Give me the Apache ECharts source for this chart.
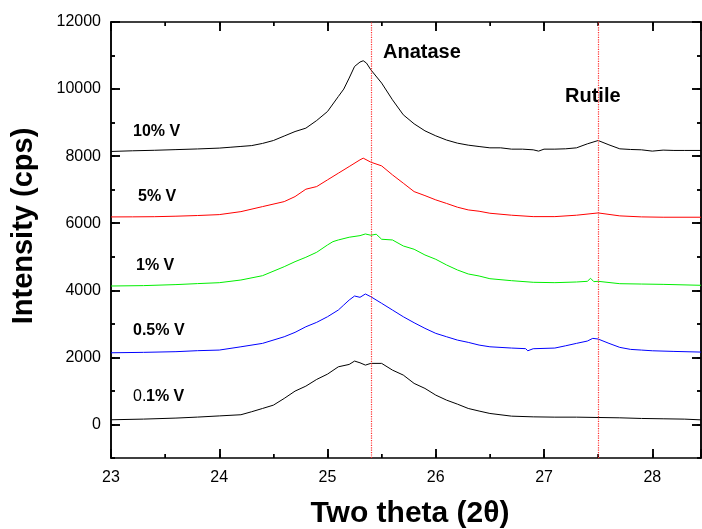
<!DOCTYPE html>
<html>
<head>
<meta charset="utf-8">
<script src="https://cdn.jsdelivr.net/npm/echarts@6/dist/echarts.min.js"></script>
<style>
  html, body { margin: 0; padding: 0; background: #fff; }
  #chart { width: 702px; height: 529px; }
</style>
</head>
<body>
<div id="chart"></div>
<script>
// XRD curves, [two theta, intensity]
const v10 = [[23.0,8140],[23.2,8160],[23.4,8175],[23.6,8195],[23.8,8215],[24.0,8240],[24.1,8265],[24.2,8290],[24.3,8315],[24.4,8380],[24.5,8466],[24.6,8600],[24.7,8734],[24.8,8835],[24.9,9063],[25.0,9331],[25.1,9779],[25.15,10000],[25.2,10328],[25.25,10675],[25.3,10806],[25.33,10845],[25.36,10775],[25.4,10576],[25.5,10179],[25.6,9680],[25.7,9233],[25.8,8964],[25.9,8755],[26.0,8606],[26.1,8480],[26.2,8388],[26.3,8328],[26.4,8287],[26.5,8248],[26.6,8248],[26.7,8209],[26.8,8209],[26.9,8189],[26.95,8150],[27.0,8209],[27.1,8209],[27.2,8219],[27.3,8248],[27.4,8367],[27.5,8466],[27.6,8337],[27.7,8218],[27.8,8199],[27.9,8189],[28.0,8150],[28.1,8180],[28.2,8170],[28.3,8170],[28.45,8170]];
const v5 = [[23.0,6188],[23.2,6190],[23.4,6195],[23.6,6210],[23.8,6230],[24.0,6257],[24.2,6346],[24.4,6496],[24.6,6645],[24.7,6794],[24.8,7015],[24.9,7093],[25.0,7293],[25.1,7492],[25.2,7690],[25.3,7890],[25.33,7940],[25.4,7821],[25.5,7710],[25.6,7442],[25.7,7194],[25.8,6943],[25.9,6824],[26.0,6696],[26.1,6590],[26.2,6478],[26.3,6397],[26.4,6358],[26.5,6298],[26.7,6239],[26.9,6197],[27.1,6197],[27.3,6239],[27.5,6307],[27.7,6219],[27.9,6189],[28.1,6179],[28.45,6179]];
const v1 = [[23.0,4128],[23.3,4140],[23.6,4170],[23.8,4200],[24.0,4227],[24.2,4307],[24.4,4436],[24.6,4704],[24.7,4854],[24.8,4985],[24.9,5134],[25.0,5352],[25.05,5451],[25.1,5501],[25.2,5582],[25.3,5630],[25.35,5680],[25.4,5642],[25.45,5672],[25.5,5522],[25.6,5501],[25.7,5322],[25.8,5224],[25.9,5054],[26.0,4925],[26.1,4755],[26.2,4606],[26.3,4487],[26.4,4427],[26.5,4346],[26.7,4287],[26.9,4239],[27.1,4228],[27.3,4248],[27.4,4268],[27.43,4358],[27.46,4258],[27.5,4268],[27.7,4197],[27.9,4187],[28.1,4177],[28.45,4149]];
const v05 = [[23.0,2137],[23.3,2150],[23.6,2170],[23.8,2200],[24.0,2218],[24.2,2316],[24.4,2418],[24.6,2615],[24.7,2746],[24.8,2913],[24.9,3045],[25.0,3212],[25.1,3412],[25.15,3561],[25.2,3710],[25.25,3830],[25.3,3791],[25.35,3890],[25.4,3809],[25.5,3612],[25.6,3412],[25.7,3212],[25.8,3033],[25.9,2866],[26.0,2716],[26.1,2615],[26.2,2516],[26.3,2448],[26.4,2367],[26.5,2316],[26.7,2278],[26.83,2260],[26.85,2197],[26.9,2258],[27.1,2278],[27.2,2346],[27.3,2418],[27.4,2487],[27.45,2567],[27.5,2547],[27.6,2418],[27.7,2298],[27.8,2238],[27.9,2218],[28.0,2197],[28.2,2178],[28.45,2158]];
const v01 = [[23.0,140],[23.3,160],[23.6,190],[23.8,220],[24.0,255],[24.2,290],[24.3,380],[24.4,477],[24.5,576],[24.6,776],[24.7,994],[24.8,1143],[24.9,1343],[25.0,1501],[25.1,1719],[25.2,1790],[25.25,1890],[25.3,1839],[25.35,1770],[25.4,1821],[25.5,1821],[25.6,1621],[25.7,1472],[25.8,1224],[25.9,1075],[26.0,875],[26.1,725],[26.2,606],[26.3,477],[26.4,400],[26.5,328],[26.7,248],[26.9,227],[27.1,218],[27.3,218],[27.5,208],[27.7,198],[27.9,179],[28.1,169],[28.3,159],[28.45,137]];

const peakLines = [25.4, 27.5];
const yMajor = [0, 2000, 4000, 6000, 8000, 10000, 12000];
const yMinor = [-1000, 1000, 3000, 5000, 7000, 9000, 11000];

const FONT = 'Liberation Sans';
const X_MIN = 23, X_MAX = 28.45, Y_MIN = -1000, Y_MAX = 12000;
const BOX = { left: 111, right: 1, top: 22, bottom: 71, outerBoundsMode: 'none' };
// pixel gap between the bottom of the chart and the y = 0 line
const ZERO_BOTTOM = 71 + 436 * (0 - Y_MIN) / (Y_MAX - Y_MIN);

const chart = echarts.init(document.getElementById('chart'));

function xAx(pos, showLabel, grid) {
    return {
        type: 'value', gridIndex: grid, position: pos, min: X_MIN, max: X_MAX, interval: 1,
        splitLine: { show: false },
        axisLine: { show: true, onZero: false, lineStyle: { color: '#000', width: 1.5 } },
        axisTick: { show: true, inside: true, length: 9, lineStyle: { color: '#000', width: 1.5 } },
        minorTick: { show: true, splitNumber: 2, length: 4, lineStyle: { color: '#000' } },
        axisLabel: { show: showLabel, color: '#000', fontSize: 16, fontFamily: FONT, margin: 12, showMaxLabel: false }
    };
}

function yAx(pos, ticks, len, showLabel, grid) {
    return {
        type: 'value', gridIndex: grid, position: pos, min: Y_MIN, max: Y_MAX, interval: 1000,
        splitLine: { show: false },
        axisLine: { show: true, onZero: false, lineStyle: { color: '#000', width: 1.5 } },
        axisTick: { show: true, inside: true, length: len, customValues: ticks, lineStyle: { color: '#000', width: 1.5 } },
        axisLabel: { show: showLabel, color: '#000', fontSize: 16, fontFamily: FONT, margin: 10,
                     formatter: v => (v >= 0 && v % 2000 === 0) ? String(v) : '' }
    };
}

const grids = [Object.assign({}, BOX), Object.assign({}, BOX)];
const xAxes = [xAx('bottom', true, 0), xAx('top', false, 0),
               { type: 'value', gridIndex: 1, min: X_MIN, max: X_MAX, show: false }];
const yAxes = [yAx('left', yMajor, 9, true, 0), yAx('right', yMajor, 9, false, 0),
               yAx('left', yMinor, 4, false, 1), yAx('right', yMinor, 4, false, 1)];

// thin strips along the frame whose split lines draw the inward tick marks
const tickLine = { show: true, lineStyle: { color: '#000', width: 1.5 } };
const off = { axisLine: { show: false }, axisTick: { show: false }, axisLabel: { show: false } };
function xStrip(rect, step) {
    const g = grids.length;
    grids.push(Object.assign({ left: 111, right: 1, outerBoundsMode: 'none' }, rect));
    xAxes.push(Object.assign({ type: 'value', gridIndex: g, min: X_MIN, max: X_MAX, interval: step, splitLine: tickLine }, off));
    yAxes.push({ type: 'value', gridIndex: g, show: false });
}
function yStrip(rect, lo, step) {
    const g = grids.length;
    grids.push(Object.assign({ top: 22, outerBoundsMode: 'none' }, rect));
    xAxes.push({ type: 'value', gridIndex: g, show: false });
    yAxes.push(Object.assign({ type: 'value', gridIndex: g, min: lo, max: Y_MAX, interval: step, splitLine: tickLine }, off));
}
xStrip({ top: 449, bottom: 71 }, 1);
xStrip({ top: 454, bottom: 71 }, 0.5);
xStrip({ top: 22, height: 9 }, 1);
xStrip({ top: 22, height: 4 }, 0.5);
yStrip({ left: 111, width: 9, bottom: ZERO_BOTTOM }, 0, 2000);
yStrip({ left: 111, width: 4, bottom: 71 }, Y_MIN, 1000);
yStrip({ right: 1, width: 9, bottom: ZERO_BOTTOM }, 0, 2000);
yStrip({ right: 1, width: 4, bottom: 71 }, Y_MIN, 1000);

function line(data, color) {
    return { type: 'line', data: data, showSymbol: false, lineStyle: { color: color, width: 1 } };
}

const s5 = line(v5, '#ff0000');
s5.markLine = {
    symbol: ['none', 'none'], label: { show: false },
    lineStyle: { color: '#ff3030', type: 'dotted', width: 1.2 },
    data: peakLines.map(v => ({ xAxis: v }))
};

const lblFont = 'bold 16px ' + FONT;
// [text, x, y, font]
const labels = [
    ['10% V', 133, 132, lblFont], ['5% V', 138, 197, lblFont], ['1% V', 136, 266, lblFont],
    ['0.5% V', 133, 331, lblFont], ['0.', 133, 397, '16px ' + FONT], ['1% V', 146, 397, lblFont],
    ['Anatase', 383, 52, 'bold 20px ' + FONT], ['Rutile', 565, 96, 'bold 20px ' + FONT]
];

chart.setOption({
    animation: false,
    grid: grids,
    xAxis: xAxes,
    yAxis: yAxes,
    series: [line(v10, '#000000'), s5, line(v1, '#00ee00'), line(v05, '#0000ff'), line(v01, '#000000')],
    graphic: labels.map(l => ({
        type: 'text', x: l[1], y: l[2],
        style: { text: l[0], font: l[3], fill: '#000', textVerticalAlign: 'middle' }
    })).concat([
        { type: 'text', x: 24, y: 226, rotation: Math.PI / 2,
          style: { text: 'Intensity (cps)', font: 'bold 29px ' + FONT, fill: '#000',
                   textAlign: 'center', textVerticalAlign: 'middle' } },
        { type: 'text', x: 410, y: 514,
          style: { text: 'Two theta (2\u03b8)', font: 'bold 30px ' + FONT, fill: '#000',
                   textAlign: 'center', textVerticalAlign: 'middle' } }
    ])
});
</script>
</body>
</html>
